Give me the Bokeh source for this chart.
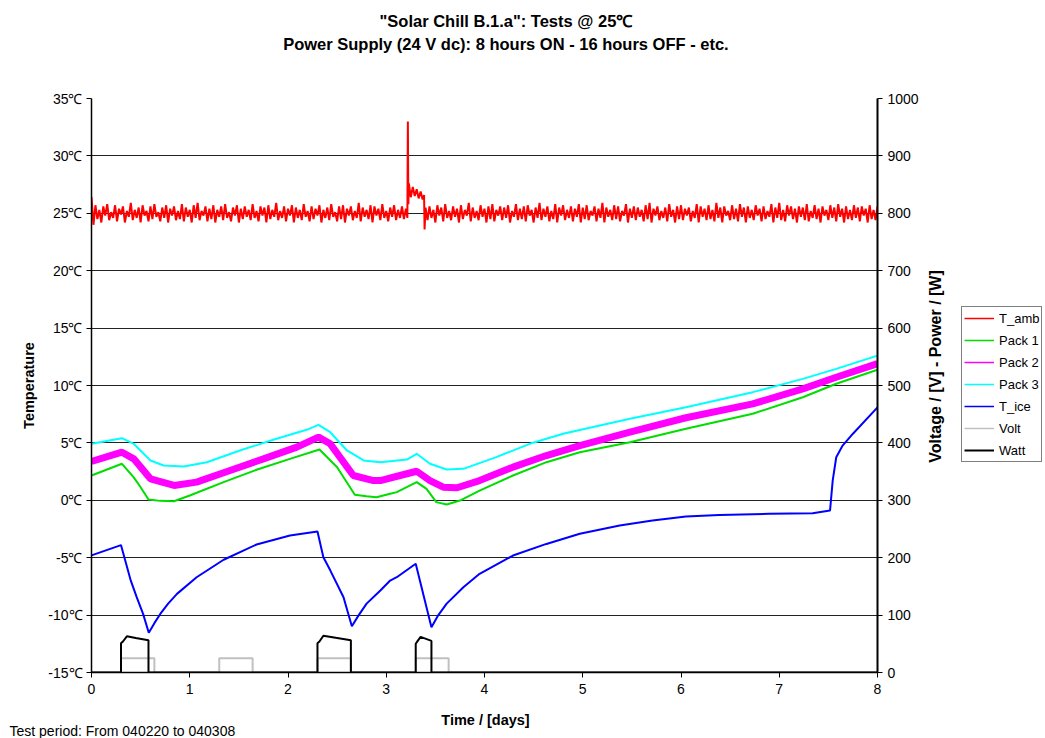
import math
import numpy as np
from bokeh.plotting import figure
from bokeh.layouts import column, row
from bokeh.models import (Range1d, LinearAxis, FixedTicker, PrintfTickFormatter,
                          Label, Legend, LegendItem)
from bokeh.embed import file_html
from bokeh.resources import INLINE

FONT = "Liberation Sans"

# ---------------- data ----------------
tamb_a = [26.4, 24.0, 25.7, 24.5, 25.3, 24.2, 25.6, 24.8, 25.8, 24.4,
          25.1, 24.6, 25.7, 24.3, 25.4, 24.9, 25.6, 24.2, 25.2, 24.7,
          25.9, 24.4, 25.3, 24.6, 25.5, 24.2, 25.7, 24.8, 25.2, 24.3,
          25.6, 24.5, 25.8, 24.7, 25.1, 24.3, 25.5, 24.6, 25.7, 24.2,
          25.4, 24.8, 25.6, 24.4, 25.2, 24.5, 25.8, 24.3, 25.5, 24.7,
          25.3, 24.2, 25.7, 24.6, 25.9, 24.4, 25.2, 24.8, 25.6, 24.3,
          25.4, 24.5, 25.7, 24.2, 25.3, 24.7, 25.6, 24.4, 25.8, 24.6,
          25.1, 24.3, 25.5, 24.8, 25.7, 24.2, 25.4, 24.5, 25.6, 24.7,
          25.3, 24.4, 25.8, 24.6, 25.2, 24.3, 25.6, 24.8, 25.5, 24.2,
          25.7, 24.5, 25.3, 24.7, 25.9, 24.4, 25.2, 24.6, 25.6, 24.3,
          25.4, 24.8, 25.7, 24.2, 25.5, 24.6, 25.3, 24.4, 25.8, 24.7,
          25.2, 24.3, 25.6, 24.5, 25.4, 24.8, 25.7, 24.2, 25.3, 24.6,
          25.5, 24.4, 25.8, 24.7, 25.1, 24.3, 25.6, 24.5, 25.7, 24.2,
          25.4, 24.8, 25.6, 24.4, 25.2, 24.6, 25.9, 24.3, 25.5, 24.7,
          25.3, 24.5, 25.7, 24.2, 25.6, 24.8, 25.4, 24.4, 25.8, 24.6,
          25.2, 24.3, 25.5, 24.7, 25.7, 24.4, 25.3, 24.6, 25.6, 24.5,
          25.4]
tamb_spike_days = [3.205, 3.215, 3.22, 3.225, 3.23, 3.25, 3.27, 3.29, 3.31, 3.33, 3.35, 3.37,
                   3.385, 3.39, 3.40]
tamb_spike_vals = [25.2, 24.6, 33.0, 25.8, 27.6, 26.4, 27.3, 26.5, 27.1, 26.3, 26.9, 26.2,
                   26.6, 23.6, 25.5]
tamb_b = [24.4, 25.6, 24.6, 25.3, 24.2, 25.7, 24.8, 25.5, 24.3, 25.8,
          24.6, 25.2, 24.4, 25.6, 24.7, 25.4, 24.2, 25.7, 24.5, 25.3,
          24.8, 25.9, 24.3, 25.5, 24.6, 25.2, 24.4, 25.7, 24.7, 25.4,
          24.2, 25.6, 24.5, 25.8, 24.3, 25.3, 24.8, 25.6, 24.4, 25.5,
          24.6, 25.7, 24.2, 25.2, 24.7, 25.8, 24.4, 25.4, 24.5, 25.6,
          24.3, 25.7, 24.8, 25.3, 24.2, 25.5, 24.6, 25.9, 24.4, 25.4,
          24.7, 25.6, 24.3, 25.2, 24.5, 25.8, 24.2, 25.5, 24.8, 25.7,
          24.4, 25.3, 24.6, 25.6, 24.3, 25.4, 24.7, 25.8, 24.2, 25.5,
          24.5, 25.7, 24.4, 25.2, 24.8, 25.6, 24.3, 25.4, 24.6, 25.9,
          24.2, 25.5, 24.7, 25.3, 24.4, 25.7, 24.5, 25.6, 24.3, 25.2,
          24.8, 25.8, 24.2, 25.4, 24.6, 25.6, 24.4, 25.5, 24.7, 25.3,
          24.3, 25.7, 24.5, 25.9, 24.2, 25.4, 24.8, 25.6, 24.4, 25.2,
          24.6, 25.5, 24.3, 25.8, 24.7, 25.3, 24.2, 25.6, 24.5, 25.7,
          24.4, 25.4, 24.8, 25.5, 24.3, 25.2, 24.6, 25.8, 24.2, 25.6,
          24.7, 25.4, 24.4, 25.7, 24.5, 25.3, 24.3, 25.9, 24.6, 25.5,
          24.2, 25.6, 24.8, 25.2, 24.4, 25.7, 24.5, 25.4, 24.3, 25.8,
          24.7, 25.5, 24.2, 25.6, 24.6, 25.3, 24.4, 25.7, 24.8, 25.4,
          24.3, 25.6, 24.5, 25.2, 24.7, 25.8, 24.2, 25.5, 24.6, 25.9,
          24.4, 25.3, 24.3, 25.7, 24.8, 25.6, 24.5, 25.4, 24.2, 25.6,
          24.7, 25.5, 24.4, 25.8, 24.3, 25.2, 24.6, 25.7, 24.5, 25.4,
          24.2, 25.6, 24.8, 25.3, 24.4, 25.7, 24.6, 25.5, 24.3, 25.8,
          24.7, 25.4, 24.2, 25.6, 24.5, 25.3, 24.4, 25.7, 24.6, 25.5,
          24.3, 25.6, 24.8, 25.4, 24.2, 25.7, 24.5, 25.3, 24.4, 25.6]
tamb_days = list(np.linspace(0.0, 3.20, len(tamb_a))) + tamb_spike_days + \
    list(np.linspace(3.42, 8.0, len(tamb_b)))
tamb_vals = tamb_a + tamb_spike_vals + tamb_b

pack1_days = [0.0, 0.31, 0.43, 0.50, 0.58, 0.70, 0.84, 1.0, 1.345, 1.68, 2.02, 2.32, 2.50,
              2.68, 2.80, 2.90, 3.04, 3.107, 3.31, 3.41, 3.51, 3.615, 3.75, 3.95, 4.29, 4.63,
              4.97, 5.48, 6.05, 6.73, 7.24, 7.58, 8.0]
pack1_vals = [2.16, 3.18, 2.0, 1.14, 0.07, -0.05, -0.08, 0.42, 1.58, 2.66, 3.61, 4.43, 2.88,
              0.48, 0.35, 0.27, 0.57, 0.71, 1.58, 1.0, -0.16, -0.37, -0.02, 0.85, 2.16, 3.32,
              4.19, 5.06, 6.23, 7.54, 8.98, 10.15, 11.37]

pack2_days = [0.0, 0.31, 0.43, 0.60, 0.84, 1.07, 1.41, 1.75, 2.09, 2.31, 2.43, 2.665, 2.87,
              2.94, 3.14, 3.31, 3.445, 3.58, 3.72, 3.95, 4.29, 4.63, 4.97, 5.48, 6.05, 6.73,
              7.24, 7.58, 8.0]
pack2_vals = [3.38, 4.19, 3.61, 1.87, 1.29, 1.58, 2.6, 3.61, 4.63, 5.5, 4.92, 2.16, 1.72,
              1.72, 2.16, 2.53, 1.72, 1.14, 1.09, 1.72, 2.89, 3.9, 4.77, 5.93, 7.19, 8.4,
              9.71, 10.72, 11.9]

pack3_days = [0.0, 0.31, 0.43, 0.60, 0.735, 0.94, 1.175, 1.51, 1.85, 2.19, 2.31, 2.43, 2.60,
              2.77, 2.94, 3.21, 3.31, 3.445, 3.615, 3.785, 4.12, 4.46, 4.80, 5.48, 6.05,
              6.73, 7.24, 7.58, 8.0]
pack3_vals = [4.92, 5.41, 4.92, 3.47, 3.03, 2.94, 3.32, 4.34, 5.27, 6.14, 6.57, 5.93, 4.34,
              3.47, 3.32, 3.55, 4.05, 3.18, 2.68, 2.74, 3.76, 4.92, 5.79, 7.1, 8.11, 9.42,
              10.58, 11.45, 12.6]

tice_days = [0.0, 0.30, 0.40, 0.46, 0.525, 0.583, 0.64, 0.70, 0.78, 0.87, 1.07, 1.345, 1.68,
             2.02, 2.30, 2.36, 2.43, 2.565, 2.65, 2.72, 2.80, 2.94, 3.04, 3.107, 3.30, 3.46,
             3.53, 3.615, 3.785, 3.95, 4.29, 4.63, 4.97, 5.376, 5.71, 6.05, 6.39, 6.90,
             7.34, 7.517, 7.544, 7.58, 7.645, 7.75, 8.0]
tice_vals = [-4.8, -3.9, -7.0, -8.44, -9.89, -11.54, -10.7, -9.9, -9.0, -8.15, -6.7, -5.18,
             -3.85, -3.07, -2.72, -4.96, -6.1, -8.44, -10.97, -10.0, -9.0, -7.86, -6.99,
             -6.7, -5.53, -11.05, -10.0, -9.0, -7.57, -6.4, -4.81, -3.8, -2.92, -2.2, -1.76,
             -1.41, -1.27, -1.18, -1.12, -0.89, 1.72, 3.75, 4.77, 5.8, 8.1]

volt_days = [0.0, 0.30, 0.30, 0.64, 0.64, 1.30, 1.30, 1.64, 1.64, 2.30, 2.30, 2.64, 2.64,
             3.30, 3.30, 3.635, 3.635, 8.0]
volt_vals = [0, 0, 25, 25, 0, 0, 25, 25, 0, 0, 25, 25, 0, 0, 25, 25, 0, 0]

watt_days = [0.0, 0.30, 0.30, 0.32, 0.36, 0.45, 0.58, 0.58, 2.30, 2.30, 2.32, 2.36, 2.50,
             2.64, 2.64, 3.30, 3.30, 3.32, 3.35, 3.46, 3.46, 8.0]
watt_vals = [0, 0, 51, 54, 63, 60, 56, 0, 0, 51, 54, 64, 60, 56, 0, 0, 50, 55, 62, 55, 0, 0]

temp_ticks = [-15, -10, -5, 0, 5, 10, 15, 20, 25, 30, 35]
power_ticks = [0, 100, 200, 300, 400, 500, 600, 700, 800, 900, 1000]
day_ticks = [0, 1, 2, 3, 4, 5, 6, 7, 8]

series_names = ["T_amb", "Pack 1", "Pack 2", "Pack 3", "T_ice", "Volt", "Watt"]
series_colors = ["#FF0000", "#00DD00", "#FF00FF", "#00FFFF", "#0000FF", "#C0C0C0", "#000000"]

title_line1 = '"Solar Chill B.1.a":   Tests @ 25\u2103'
title_line2 = "Power Supply (24 V dc):   8 hours ON - 16 hours OFF - etc."
x_label = "Time / [days]"
y_label = "Temperature"
y2_label = "Voltage / [V] - Power / [W]"
note_text = "Test period: From 040220 to 040308"


def blank_fig(w, h):
    f = figure(width=w, height=h, output_backend="svg", toolbar_location=None,
               x_range=Range1d(0, 1), y_range=Range1d(0, 1),
               x_axis_location=None, y_axis_location=None, min_border=0)
    f.outline_line_color = None
    f.grid.grid_line_color = None
    f.background_fill_color = "white"
    f.border_fill_color = "white"
    return f


# ---------------- title strip ----------------
top = blank_fig(1045, 60)
for txt, yy in ((title_line1, 40), (title_line2, 17)):
    top.add_layout(Label(x=510, y=yy, x_units="screen", y_units="screen", text=txt,
                         text_font=FONT, text_font_size="16.5px", text_font_style="bold",
                         text_align="center", text_baseline="middle", text_color="black"))

# ---------------- main plot ----------------
p = figure(width=921, height=642, output_backend="svg", toolbar_location=None,
           x_range=Range1d(0, 8), y_range=Range1d(-15, 35),
           min_border_left=91, min_border_right=43, min_border_top=38,
           min_border_bottom=30)
p.outline_line_color = None
p.background_fill_color = "white"
p.border_fill_color = "white"
p.extra_y_ranges = {"power": Range1d(0, 1000)}

p.xaxis.ticker = FixedTicker(ticks=day_ticks)
p.yaxis.ticker = FixedTicker(ticks=temp_ticks)
p.yaxis.formatter = PrintfTickFormatter(format="%d\u2103")
p.yaxis.axis_label = y_label

right = LinearAxis(y_range_name="power", ticker=FixedTicker(ticks=power_ticks))
p.add_layout(right, "right")

for ax in [p.xaxis[0], p.yaxis[0], right]:
    ax.axis_line_color = "black"
    ax.axis_line_width = 1.5
    ax.major_tick_line_color = "black"
    ax.major_tick_out = 5
    ax.major_tick_in = 0
    ax.minor_tick_line_color = None
    ax.major_label_text_font = FONT
    ax.major_label_text_font_size = "14px"
    ax.major_label_text_color = "black"
    ax.axis_label_text_font = FONT
    ax.axis_label_text_font_size = "14.5px"
    ax.axis_label_text_font_style = "bold"
    ax.axis_label_text_color = "black"
right.axis_line_width = 2
p.xaxis.major_label_standoff = 6
p.yaxis.major_label_standoff = 4
p.yaxis.axis_label_standoff = 8
right.major_label_standoff = 5

p.xgrid.grid_line_color = None
p.ygrid.grid_line_color = "#222222"
p.ygrid.grid_line_width = 1
p.ygrid.ticker = FixedTicker(ticks=temp_ticks)

p.line(volt_days, volt_vals, y_range_name="power", line_color=series_colors[5], line_width=2)
p.line(watt_days, watt_vals, y_range_name="power", line_color=series_colors[6], line_width=2)
p.line(tamb_days, tamb_vals, line_color=series_colors[0], line_width=2)
p.line(pack1_days, pack1_vals, line_color=series_colors[1], line_width=2)
p.line(pack2_days, pack2_vals, line_color=series_colors[2], line_width=7)
p.line(pack3_days, pack3_vals, line_color=series_colors[3], line_width=2)
p.line(tice_days, tice_vals, line_color=series_colors[4], line_width=2)

# ---------------- right strip: secondary axis title + legend ----------------
lg = blank_fig(124, 642)
lg.add_layout(Label(x=14, y=306, x_units="screen", y_units="screen", text=y2_label,
                    angle=math.pi / 2, text_font=FONT, text_font_size="16px",
                    text_font_style="bold", text_align="center", text_baseline="middle",
                    text_color="black"))
items = []
for name, col in zip(series_names, series_colors):
    r = lg.line([5], [5], line_color=col, line_width=1.5 if name != "Watt" else 2)
    items.append(LegendItem(label=name, renderers=[r]))
legend = Legend(items=items, location=(40, 210), orientation="vertical",
                glyph_width=30, glyph_height=18, label_height=18, spacing=4,
                padding=2, margin=0, label_standoff=5,
                label_text_font=FONT, label_text_font_size="13px",
                label_text_color="black",
                border_line_color="black", border_line_width=1,
                background_fill_color="white", background_fill_alpha=1)
lg.add_layout(legend)

# ---------------- bottom strip ----------------
bottom = blank_fig(1045, 36)
bottom.add_layout(Label(x=485, y=19, x_units="screen", y_units="screen", text=x_label,
                        text_font=FONT, text_font_size="14.5px", text_font_style="bold",
                        text_align="center", text_baseline="middle", text_color="black"))
bottom.add_layout(Label(x=9, y=8, x_units="screen", y_units="screen", text=note_text,
                        text_font=FONT, text_font_size="14px",
                        text_align="left", text_baseline="middle", text_color="black"))

layout = column(top, row(p, lg, spacing=0), bottom, spacing=0)
open("out.html", "w").write(file_html(layout, INLINE))
